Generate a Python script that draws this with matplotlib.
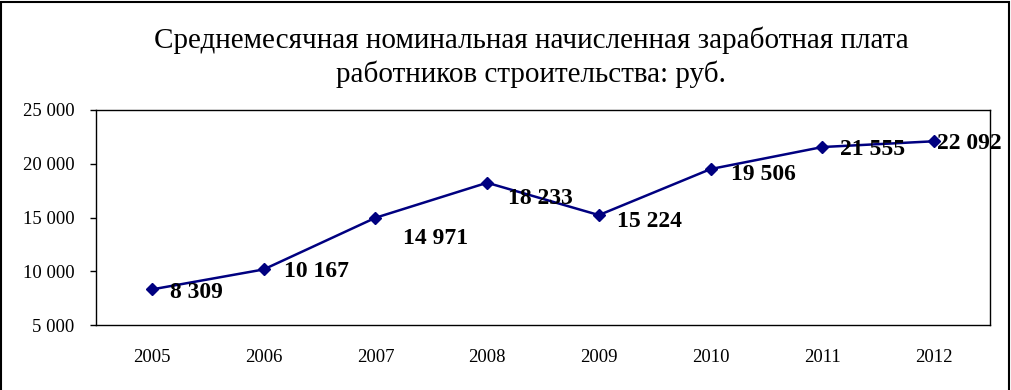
import matplotlib.pyplot as plt
from matplotlib.ticker import FuncFormatter, MultipleLocator
from matplotlib.patches import Rectangle

years = ['2005', '2006', '2007', '2008', '2009', '2010', '2011', '2012']
wages = [8309, 10167, 14971, 18233, 15224, 19506, 21555, 22092]
title = 'Среднемесячная номинальная начисленная заработная плата\nработников строительства: руб.'

# label nudges in pixels (right, down) - hand placed like in the original
nudge = [(18, 1), (20, 0), (28, 18), (21, 13), (18, 4), (20, 3), (18, 0), (3, 0)]


def fmt(v):
    return f'{v:,.0f}'.replace(',', ' ')


plt.rcParams['font.family'] = ['Liberation Serif', 'DejaVu Serif']

fig = plt.figure(figsize=(10.11, 3.9), dpi=100)
ax = fig.add_axes([96 / 1011, 65 / 390, 894 / 1011, 215 / 390])

x = list(range(len(years)))
ax.plot(x, wages, color='#000080', lw=1.8, marker='D', ms=6.5)

for i, v in enumerate(wages):
    dx, dy = nudge[i]
    ax.annotate(fmt(v), (i, v), xytext=(dx, -(dy + 8)), textcoords='offset pixels',
                ha='left', va='baseline', fontsize=17, fontweight='bold',
                annotation_clip=False, clip_on=False)

ax.set_xlim(-0.5, len(years) - 0.5)
ax.set_ylim(5000, 25000)
ax.yaxis.set_major_locator(MultipleLocator(5000))
ax.yaxis.set_major_formatter(FuncFormatter(lambda v, p: fmt(v)))
ax.set_xticks(x)
ax.set_xticklabels(years)
ax.tick_params(axis='y', length=4.5, width=1, pad=11, labelsize=13.5)
ax.tick_params(axis='x', length=0, pad=17, labelsize=13.5)
for s in ax.spines.values():
    s.set_linewidth(1)

fig.text(531 / 1011, 1 - 27 / 390, title, ha='center', va='top', fontsize=21,
         linespacing=1.3)

fig.patches.append(Rectangle((1 / 1011, -0.05), 1008 / 1011, 1.05 - 1.5 / 390,
                             transform=fig.transFigure, fill=False,
                             edgecolor='black', lw=1.5))

fig.savefig('out.png', dpi=100)
